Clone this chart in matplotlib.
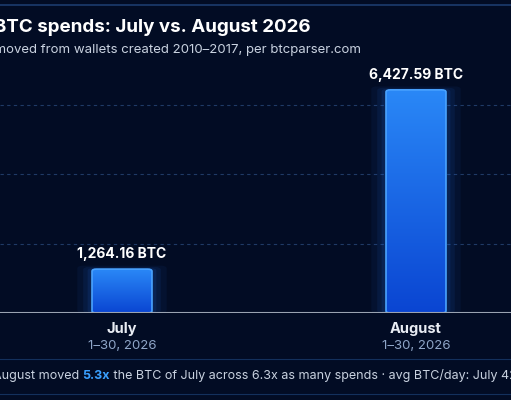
import numpy as np
import matplotlib.pyplot as plt
from matplotlib.patches import FancyBboxPatch
from matplotlib.colors import LinearSegmentedColormap

months = ["July", "August"]
ranges = ["1–30, 2026", "1–30, 2026"]
btc = [1264.16, 6427.59]
grid_vals = [2000, 4000, 6000]

plt.rcParams['font.family'] = ['Inter', 'DejaVu Sans']
bg = "#020c24"
fig = plt.figure(figsize=(5.11, 4.0), dpi=100, facecolor=bg)
ax = fig.add_axes([0, 1 - 313 / 400, 1, (313 - 70) / 400])
ax.set_facecolor(bg)
ax.set_xlim(-122 / 294, 389 / 294)
ax.set_ylim(0, 7000)
for s in ax.spines.values():
    s.set_visible(False)
ax.set_xticks([])
ax.set_yticks([])

for g in grid_vals:
    ax.axhline(g, color="#1f3a66", lw=0.8, ls=(0, (3, 3)), zorder=0)
ax.axhline(0, color="#9aa3b2", lw=1.5, zorder=5)

w = 0.204
grad = np.linspace(0, 1, 256).reshape(-1, 1)
cmap = LinearSegmentedColormap.from_list("b", ["#0a45d2", "#2a88f7"])
for i, v in enumerate(btc):
    # glow
    for k, a in [(0.05, 0.06), (0.03, 0.08), (0.015, 0.1)]:
        ax.add_patch(FancyBboxPatch((i - w / 2 - k, 0), w + 2 * k, v + k * 2000,
                                    boxstyle="round,pad=0,rounding_size=0.02",
                                    fc="#2a7cff", ec="none", alpha=a, zorder=1,
                                    mutation_aspect=7000 / 1.7))
    p = FancyBboxPatch((i - w / 2, 0), w, v, boxstyle="round,pad=0,rounding_size=0.015",
                       fc="none", ec="#4aa3ff", lw=1.2, zorder=3,
                       mutation_aspect=7000 / 1.7)
    ax.add_patch(p)
    im = ax.imshow(grad, extent=(i - w / 2, i + w / 2, 0, v), origin="lower",
                   cmap=cmap, aspect="auto", zorder=2)
    im.set_clip_path(p)
    ax.text(i, v + 220, f"{v:,.2f} BTC", color="white", fontsize=10,
            fontweight="bold", ha="center", va="bottom")
    ax.text(i, -250, months[i], color="#e8ecf3", fontsize=10.5, fontweight="bold",
            ha="center", va="top")
    ax.text(i, -780, ranges[i], color="#8fa6c8", fontsize=9.5, ha="center", va="top")

fig.add_artist(plt.Line2D([0, 1], [1 - 5 / 400] * 2, color="#1c3b6e", lw=1.2))
fig.text(-0.083, 1 - 27 / 400, "Old BTC spends: July vs. August 2026", color="white",
         fontsize=13.5, fontweight="bold", va="center")
fig.text(-0.07, 1 - 50 / 400, "BTC moved from wallets created 2010–2017, per btcparser.com",
         color="#c9d2e0", fontsize=9.5, va="center")

fig.add_artist(plt.Line2D([0, 1], [1 - 359 / 400] * 2, color="#13305c", lw=0.8))
fig.add_artist(plt.Line2D([0, 1], [1 - 394 / 400] * 2, color="#13305c", lw=0.8))
y = 1 - 376 / 400
t1 = fig.text(-0.014, y, "August moved ", color="#c9d2e0", fontsize=9, va="center")
fig.canvas.draw()
r = fig.canvas.get_renderer()
x = t1.get_window_extent(r).x1 / fig.bbox.width
t2 = fig.text(x, y, "5.3x", color="#3aa0ff", fontsize=9, fontweight="bold", va="center")
x = t2.get_window_extent(r).x1 / fig.bbox.width
fig.text(x, y, " the BTC of July across 6.3x as many spends · avg BTC/day: July 42.14 · August 214.25",
         color="#c9d2e0", fontsize=9, va="center")

fig.savefig("out.png", dpi=100, facecolor=bg)
